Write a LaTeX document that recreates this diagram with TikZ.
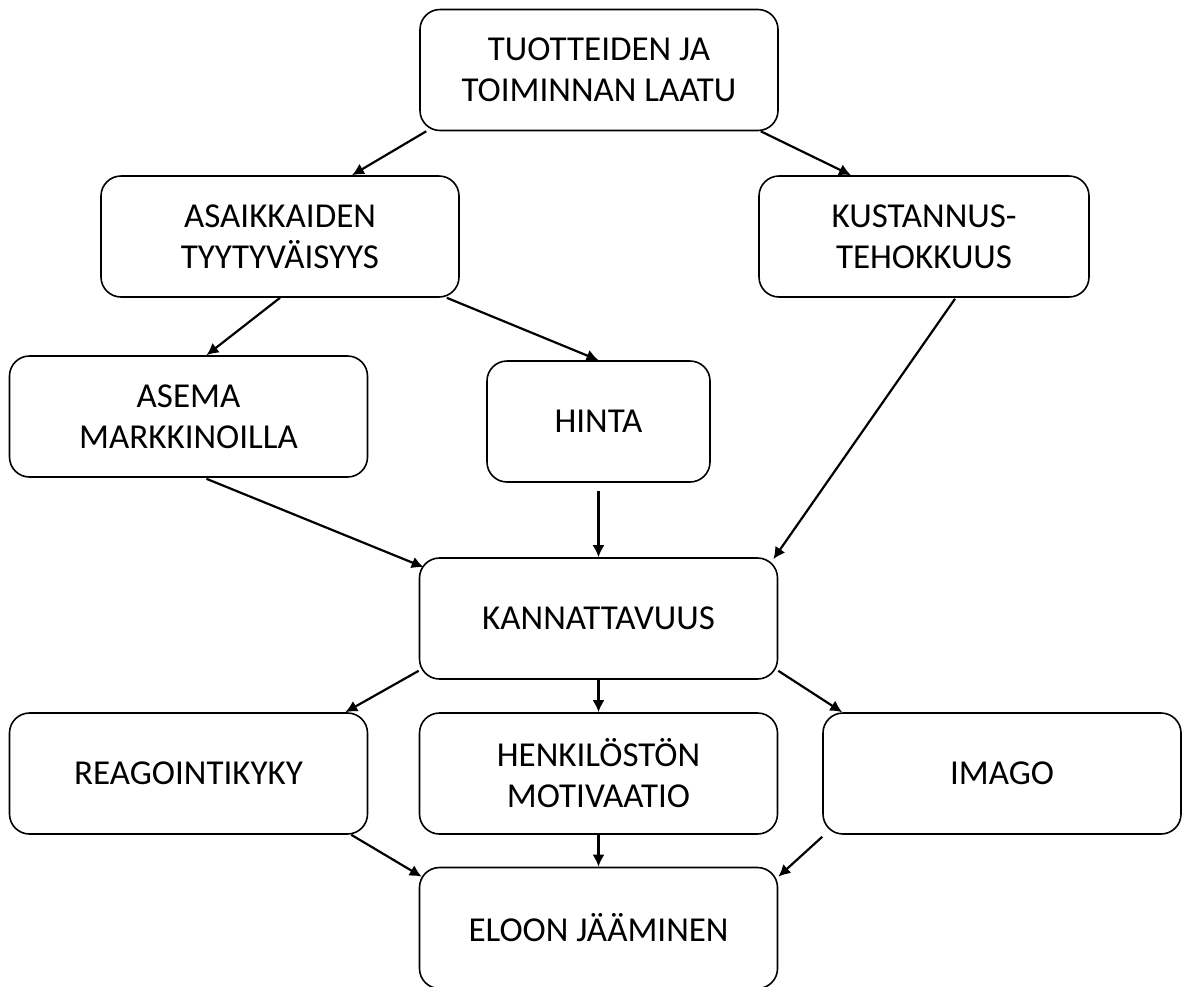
\documentclass[tikz,border=0pt]{standalone}
\usepackage{fontspec}
\setmainfont{Carlito}
\usetikzlibrary{arrows.meta,calc}

\begin{document}
\begin{tikzpicture}[
  x=0.5pt,y=-0.5pt,
  box/.style={draw,rounded corners=10pt,line width=0.8pt,align=center,
              minimum width=179pt,minimum height=60.5pt,inner sep=0pt,
              font=\fontsize{17.5}{20.5}\selectfont},
  arrow/.style={-{Latex[length=6pt,width=6pt]},line width=1.1pt}
]
\useasboundingbox (0,0) rectangle (1187,986);
\node[box] (laatu) at (599,70) {TUOTTEIDEN JA\\TOIMINNAN LAATU};
\node[box] (tyyt) at (280,236.5) {ASAIKKAIDEN\\TYYTYV\"AISYYS};
\node[box,minimum width=165pt] (kust) at (924,236.5) {KUSTANNUS-\\TEHOKKUUS};
\node[box] (asema) at (188.5,416.5) {ASEMA\\MARKKINOILLA};
\node[box,minimum width=111.5pt] (hinta) at (598.5,421.5) {HINTA};
\node[box] (kann) at (598.5,618.5) {KANNATTAVUUS};
\node[box] (reag) at (188.5,773.5) {REAGOINTIKYKY};
\node[box] (henk) at (598.5,773.5) {HENKIL\"OST\"ON\\MOTIVAATIO};
\node[box] (imago) at (1002,773.5) {IMAGO};
\node[box] (eloon) at (598.5,928) {ELOON J\"A\"AMINEN};
% vaikutukset
\draw[arrow] ($(laatu.south west)+(7,0)$) -- ($(tyyt.north)+(72,0)$);
\draw[arrow] ($(laatu.south east)+(-18,0)$) -- ($(kust.north)+(-73,0)$);
\draw[arrow] (tyyt.south) -- ($(asema.north)+(18,0)$);
\draw[arrow] ($(tyyt.south east)+(-13,0)$) -- (hinta.north);
\draw[arrow] ($(kust.south)+(31,1)$) -- ($(kann.north east)+(-5,2)$);
\draw[arrow] ($(asema.south)+(18,1)$) -- ($(kann.north west)+(5,10)$);
\draw[arrow] ($(hinta.south)+(0,8)$) -- (kann.north);
\draw[arrow] ($(kann.south west)+(0,-9)$) -- ($(reag.north east)+(-23,0)$);
\draw[arrow] (kann.south) -- (henk.north);
\draw[arrow] ($(kann.south east)+(0,-9)$) -- ($(imago.north west)+(20,0)$);
\draw[arrow] ($(reag.south east)+(-17,0)$) -- ($(eloon.north west)+(3,10)$);
\draw[arrow] (henk.south) -- (eloon.north);
\draw[arrow] ($(imago.south west)+(0,2)$) -- ($(eloon.north east)+(0,10)$);
\end{tikzpicture}
\end{document}
